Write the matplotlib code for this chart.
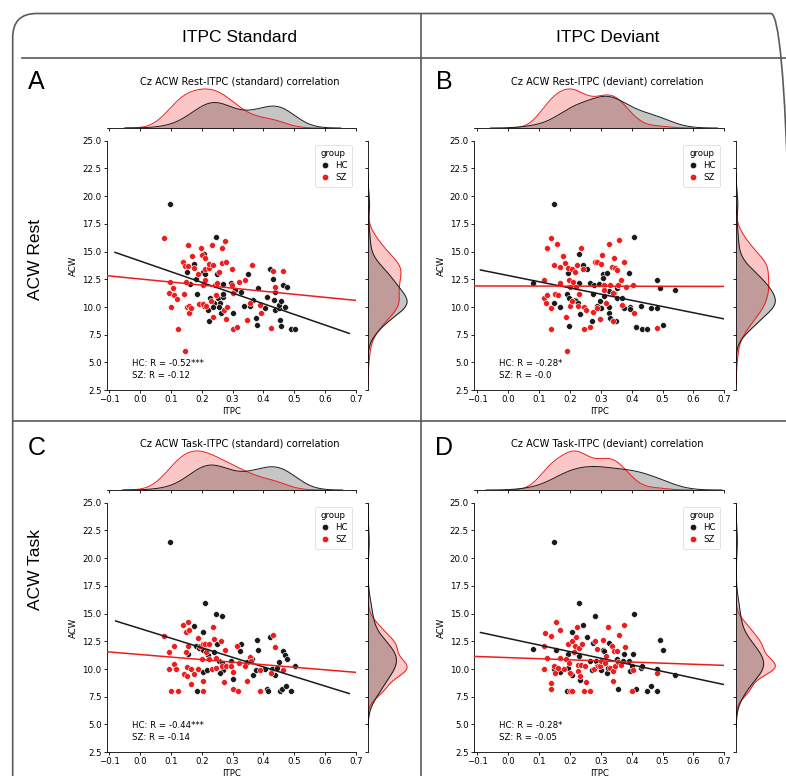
import numpy as np
import matplotlib.pyplot as plt
from matplotlib.patches import FancyBboxPatch
from matplotlib.lines import Line2D

# ---- data ----
# panel A: ACW rest vs ITPC standard
a_hc_x = [0.097, 0.246, 0.153, 0.175, 0.207, 0.181, 0.184, 0.162, 0.205, 0.209, 0.248, 0.227, 0.240,
          0.254, 0.259, 0.268, 0.270, 0.270, 0.294, 0.207, 0.219, 0.225, 0.238, 0.256, 0.261, 0.302,
          0.308, 0.326, 0.337, 0.351, 0.356, 0.365, 0.376, 0.380, 0.383, 0.405, 0.410, 0.421, 0.430,
          0.434, 0.436, 0.438, 0.449, 0.451, 0.456, 0.454, 0.458, 0.464, 0.477, 0.471, 0.488, 0.503]
a_hc_y = [19.26, 16.3, 13.2, 13.85, 14.75, 12.55, 11.2, 12.05, 13.2, 12.95, 13.0, 10.8, 10.4,
          10.8, 10.4, 10.9, 11.2, 12.1, 12.2, 10.1, 9.7, 8.7, 10.0, 10.0, 9.5, 9.45,
          11.5, 11.4, 10.1, 13.0, 10.1, 10.6, 9.0, 8.35, 11.7, 9.95, 10.9, 13.45, 12.5,
          10.6, 11.4, 9.7, 9.9, 10.2, 10.5, 8.8, 8.3, 12.0, 11.8, 10.0, 8.0, 8.0]
a_sz_x = [0.077, 0.095, 0.097, 0.100, 0.108, 0.110, 0.119, 0.123, 0.138, 0.143, 0.146, 0.148, 0.151,
          0.145, 0.157, 0.157, 0.158, 0.160, 0.164, 0.167, 0.175, 0.188, 0.191, 0.197, 0.201, 0.205,
          0.205, 0.210, 0.210, 0.212, 0.213, 0.224, 0.224, 0.229, 0.236, 0.234, 0.238, 0.244, 0.248,
          0.246, 0.257, 0.265, 0.265, 0.275, 0.278, 0.279, 0.273, 0.281, 0.297, 0.299, 0.300, 0.302,
          0.313, 0.321, 0.340, 0.346, 0.356, 0.362, 0.389, 0.391, 0.425, 0.432, 0.436, 0.464]
a_sz_y = [16.2, 11.25, 12.3, 10.0, 11.75, 11.1, 10.75, 8.0, 14.1, 11.15, 13.7, 12.3, 10.0,
          6.0, 15.6, 13.7, 10.1, 9.5, 9.9, 14.6, 13.5, 13.0, 10.3, 15.3, 14.7, 12.0,
          10.3, 14.4, 13.4, 12.4, 10.1, 13.55, 13.9, 10.5, 9.1, 15.6, 13.8, 12.0, 12.2,
          11.05, 13.2, 15.3, 14.0, 16.0, 14.05, 8.9, 9.7, 10.0, 12.0, 13.4, 8.0, 11.3,
          8.2, 12.3, 12.4, 8.8, 10.35, 13.8, 10.2, 9.5, 8.1, 13.25, 11.8, 13.25]

# panel B: ACW rest vs ITPC deviant
b_hc_x = [0.080, 0.149, 0.148, 0.167, 0.189, 0.194, 0.197, 0.198, 0.216, 0.221, 0.227, 0.230, 0.230,
          0.233, 0.241, 0.254, 0.265, 0.273, 0.270, 0.278, 0.286, 0.295, 0.297, 0.302, 0.308, 0.308,
          0.310, 0.321, 0.325, 0.327, 0.327, 0.330, 0.338, 0.342, 0.349, 0.351, 0.353, 0.356, 0.367,
          0.375, 0.392, 0.394, 0.396, 0.408, 0.414, 0.429, 0.432, 0.451, 0.461, 0.481, 0.483, 0.491,
          0.500, 0.541]
b_hc_y = [12.15, 19.26, 10.4, 10.0, 11.2, 13.1, 10.8, 8.3, 10.6, 10.5, 10.4, 12.15, 14.8,
          9.4, 13.8, 13.45, 12.2, 11.15, 8.7, 11.95, 10.1, 12.05, 10.5, 9.95, 13.0, 12.6,
          11.0, 13.1, 11.45, 10.0, 9.5, 9.0, 8.75, 11.3, 8.75, 10.8, 11.7, 11.95, 10.8,
          9.95, 13.05, 10.0, 9.8, 16.3, 8.2, 10.1, 8.0, 8.0, 9.95, 12.45, 9.95, 11.7,
          8.35, 11.5]
b_sz_x = [0.116, 0.117, 0.122, 0.126, 0.127, 0.137, 0.140, 0.140, 0.148, 0.153, 0.159, 0.160, 0.167,
          0.169, 0.176, 0.184, 0.187, 0.189, 0.194, 0.197, 0.200, 0.200, 0.205, 0.207, 0.210, 0.216,
          0.221, 0.224, 0.227, 0.230, 0.236, 0.241, 0.244, 0.246, 0.252, 0.265, 0.275, 0.281, 0.288,
          0.288, 0.297, 0.302, 0.305, 0.310, 0.310, 0.318, 0.325, 0.331, 0.335, 0.338, 0.342, 0.346,
          0.351, 0.340, 0.356, 0.360, 0.365, 0.375, 0.381, 0.367, 0.403, 0.407, 0.483]
b_sz_y = [12.4, 10.8, 10.35, 11.1, 15.35, 16.2, 8.0, 9.95, 13.8, 11.2, 15.65, 11.1, 13.65,
          12.2, 14.6, 14.0, 9.1, 6.0, 13.5, 12.4, 11.85, 10.1, 13.4, 10.5, 12.3, 13.2,
          11.85, 13.8, 10.1, 11.2, 15.3, 13.4, 10.0, 8.0, 9.7, 8.2, 9.55, 14.1, 14.1,
          9.9, 8.9, 13.85, 14.7, 12.0, 11.55, 10.4, 15.65, 12.0, 13.6, 11.3, 14.4, 13.5,
          13.35, 8.75, 12.0, 16.05, 12.4, 14.1, 11.85, 10.2, 12.0, 9.5, 8.1]

# panel C: ACW task vs ITPC standard
c_hc_x = [0.097, 0.211, 0.246, 0.265, 0.175, 0.205, 0.154, 0.181, 0.192, 0.204, 0.216, 0.219, 0.248,
          0.240, 0.257, 0.265, 0.270, 0.259, 0.203, 0.216, 0.302, 0.294, 0.324, 0.326, 0.348, 0.362,
          0.367, 0.376, 0.184, 0.380, 0.381, 0.405, 0.410, 0.416, 0.421, 0.427, 0.438, 0.445, 0.450,
          0.454, 0.459, 0.464, 0.470, 0.473, 0.477, 0.488, 0.502]
c_hc_y = [21.45, 15.95, 15.0, 14.8, 13.9, 13.35, 11.35, 12.05, 11.9, 11.75, 11.6, 11.3, 12.3,
          11.5, 10.75, 10.55, 9.95, 9.6, 9.7, 9.95, 9.1, 10.7, 11.6, 12.3, 10.6, 10.9,
          9.45, 9.9, 8.0, 12.6, 11.75, 10.0, 8.2, 8.0, 12.9, 10.0, 9.45, 10.1, 10.65,
          8.0, 8.2, 11.65, 11.3, 8.5, 10.9, 8.0, 10.3]
c_sz_x = [0.079, 0.095, 0.095, 0.100, 0.110, 0.110, 0.117, 0.123, 0.138, 0.143, 0.148, 0.148, 0.151,
          0.153, 0.157, 0.158, 0.157, 0.164, 0.164, 0.175, 0.188, 0.189, 0.194, 0.201, 0.205, 0.205,
          0.205, 0.211, 0.214, 0.224, 0.224, 0.232, 0.236, 0.241, 0.245, 0.245, 0.262, 0.265, 0.273,
          0.276, 0.277, 0.294, 0.300, 0.300, 0.315, 0.316, 0.322, 0.340, 0.346, 0.356, 0.360, 0.389,
          0.389, 0.425, 0.432, 0.438, 0.464]
c_sz_y = [13.0, 11.55, 10.0, 8.0, 12.05, 10.45, 10.0, 8.0, 13.95, 9.55, 13.3, 11.5, 10.15,
          9.4, 14.25, 13.55, 12.05, 10.0, 8.65, 9.55, 12.8, 10.0, 12.05, 10.9, 12.3, 8.9,
          8.0, 12.3, 11.5, 12.3, 10.9, 10.0, 13.8, 12.7, 11.0, 10.1, 12.5, 10.3, 8.8,
          11.75, 10.3, 10.3, 9.7, 8.2, 12.05, 8.0, 10.55, 10.3, 8.9, 11.1, 10.7, 9.9,
          8.0, 9.65, 13.1, 11.95, 9.95]

# panel D: ACW task vs ITPC deviant
d_hc_x = [0.080, 0.149, 0.149, 0.156, 0.167, 0.189, 0.194, 0.194, 0.207, 0.208, 0.219, 0.230, 0.230,
          0.232, 0.241, 0.254, 0.265, 0.270, 0.273, 0.281, 0.284, 0.288, 0.302, 0.308, 0.310, 0.321,
          0.325, 0.324, 0.340, 0.353, 0.357, 0.373, 0.375, 0.392, 0.394, 0.400, 0.403, 0.407, 0.414,
          0.429, 0.432, 0.451, 0.461, 0.481, 0.483, 0.491, 0.500, 0.540]
d_hc_y = [11.85, 21.45, 10.0, 11.7, 9.7, 8.0, 11.4, 10.1, 9.45, 13.35, 11.9, 11.2, 15.95,
          9.05, 13.95, 12.9, 10.75, 9.95, 12.35, 14.8, 10.75, 10.25, 9.95, 11.75, 11.65, 9.65,
          12.35, 10.1, 9.95, 10.9, 8.2, 10.7, 11.35, 10.7, 9.85, 10.25, 11.35, 15.0, 8.2,
          10.1, 10.3, 8.0, 8.5, 10.0, 8.0, 12.65, 11.75, 9.45]
d_sz_x = [0.116, 0.119, 0.116, 0.126, 0.137, 0.138, 0.140, 0.148, 0.151, 0.156, 0.160, 0.167, 0.169,
          0.180, 0.187, 0.194, 0.196, 0.200, 0.200, 0.207, 0.208, 0.214, 0.216, 0.219, 0.224, 0.227,
          0.227, 0.230, 0.232, 0.235, 0.238, 0.244, 0.249, 0.252, 0.265, 0.278, 0.281, 0.288, 0.291,
          0.297, 0.302, 0.308, 0.313, 0.318, 0.324, 0.330, 0.335, 0.338, 0.340, 0.342, 0.346, 0.351,
          0.356, 0.360, 0.364, 0.375, 0.379, 0.400, 0.405, 0.481]
d_sz_y = [12.05, 13.25, 10.0, 11.0, 13.0, 8.75, 8.2, 10.25, 9.6, 14.25, 10.1, 13.55, 11.0,
          10.0, 10.9, 12.25, 10.55, 9.6, 8.0, 8.0, 12.5, 11.5, 12.05, 12.85, 13.8, 10.4,
          9.8, 11.9, 9.35, 10.35, 12.3, 8.0, 10.25, 8.8, 8.0, 10.0, 12.5, 11.8, 10.3,
          10.3, 10.7, 12.65, 10.55, 11.15, 13.8, 10.1, 12.05, 8.9, 9.8, 11.6, 10.25, 11.6,
          10.6, 13.1, 10.35, 13.95, 11.95, 8.0, 9.95, 9.65]

# regression lines: (slope, intercept), HC line x-span
fit_hc = {"A": (-9.63, 14.15), "B": (-5.59, 12.84), "C": (-8.65, 13.65), "D": (-5.95, 12.76)}
fit_sz = {"A": (-2.76, 12.53), "B": (-0.05, 11.895), "C": (-2.30, 11.31), "D": (-1.00, 11.03)}
hc_span = {"A": (-0.081, 0.678), "B": (-0.090, 0.70), "C": (-0.079, 0.678), "D": (-0.090, 0.70)}
stats = {"A": ("-0.52***", "-0.12"), "B": ("-0.28*", "-0.0"),
         "C": ("-0.44***", "-0.14"), "D": ("-0.28*", "-0.05")}
titles = {"A": "Cz ACW Rest-ITPC (standard) correlation", "B": "Cz ACW Rest-ITPC (deviant) correlation",
          "C": "Cz ACW Task-ITPC (standard) correlation", "D": "Cz ACW Task-ITPC (deviant) correlation"}
groups = ["HC", "SZ"]
col_headers = ["ITPC Standard", "ITPC Deviant"]
row_headers = ["ACW Rest", "ACW Task"]

HC_COLOR = "#1a1a1a"
SZ_COLOR = "#ee1c1c"
W, H = 786, 776
SMALL = 6.2
LINE_GRAY = "#5a5a5a"


def px_axes(fig, left, top, width, height):
    return fig.add_axes([left / W, 1 - (top + height) / H, width / W, height / H])


def kde(values, grid, n_total):
    values = np.asarray(values)
    bw = values.std(ddof=1) * len(values) ** (-0.2)
    z = (grid[:, None] - values[None, :]) / bw
    return np.exp(-0.5 * z ** 2).sum(axis=1) / (np.sqrt(2 * np.pi) * bw * n_total)


def kde_grid(values):
    values = np.asarray(values)
    bw = values.std(ddof=1) * len(values) ** (-0.2)
    return np.linspace(values.min() - 3 * bw, values.max() + 3 * bw, 200)


def draw_panel(fig, key, hc_x, hc_y, sz_x, sz_y, left, top, xlim):
    size_h = 249.5
    width = (xlim[1] - xlim[0]) * 308.6
    ax = px_axes(fig, left, top, width, size_h)
    ax_top = px_axes(fig, left, top - 12.7 - 41, width, 41)
    ax_right = px_axes(fig, left + width + 12, top, 41, size_h)

    ax.scatter(hc_x, hc_y, s=18, color=HC_COLOR, edgecolor="white", linewidth=0.4, zorder=3)
    ax.scatter(sz_x, sz_y, s=18, color=SZ_COLOR, edgecolor="white", linewidth=0.4, zorder=3)

    xs = np.array(hc_span[key])
    m, b = fit_hc[key]
    ax.plot(xs, m * xs + b, color=HC_COLOR, lw=1.1, zorder=4)
    xs = np.array(xlim)
    m, b = fit_sz[key]
    ax.plot(xs, m * xs + b, color=SZ_COLOR, lw=1.1, zorder=4)

    ax.set_xlim(xlim)
    ax.set_ylim(2.5, 25)
    xt = np.round(np.arange(-0.1, 0.71, 0.1), 1)
    yt = np.arange(2.5, 25.1, 2.5)
    ax.set_xticks(xt)
    ax.set_yticks(yt)
    ax.set_xlabel("ITPC", fontsize=SMALL, labelpad=2)
    ax.set_ylabel("ACW", fontsize=SMALL, labelpad=3)
    ax.tick_params(labelsize=SMALL, length=2.2, width=0.6, pad=1.5)
    for s in ["top", "right"]:
        ax.spines[s].set_visible(False)
    for s in ["left", "bottom"]:
        ax.spines[s].set_linewidth(0.6)

    hc_r, sz_r = stats[key]
    ax.text(0.1, 0.04, f"HC: R = {hc_r}\nSZ: R = {sz_r}", transform=ax.transAxes,
            fontsize=SMALL, ha="left", va="bottom", linespacing=1.5)

    handles = [Line2D([], [], ls="", marker="o", color=c, markeredgecolor="white",
                      markeredgewidth=0.4, markersize=4.6) for c in (HC_COLOR, SZ_COLOR)]
    leg = ax.legend(handles, groups, title="group", loc="upper right", fontsize=SMALL,
                    title_fontsize=SMALL, borderpad=0.5, labelspacing=0.35,
                    handletextpad=0.6, handlelength=1.2, borderaxespad=0.5)
    leg.get_frame().set_linewidth(0.5)

    # marginal densities (common normalisation over both groups)
    n_total = len(hc_x) + len(sz_x)
    top_max = 0
    for vals, col in ((sz_x, SZ_COLOR), (hc_x, HC_COLOR)):
        g = kde_grid(vals)
        d = kde(vals, g, n_total)
        top_max = max(top_max, d.max())
        ax_top.fill_between(g, d, color=col, alpha=0.25, lw=0)
        ax_top.plot(g, d, color=col, lw=0.7)
    ax_top.set_xlim(xlim)
    ax_top.set_ylim(0, top_max * 1.05)
    ax_top.set_xticks(xt)
    ax_top.set_xticklabels([])
    ax_top.set_yticks([])
    ax_top.tick_params(length=2.2, width=0.6)
    for s in ["top", "right", "left"]:
        ax_top.spines[s].set_visible(False)
    ax_top.spines["bottom"].set_linewidth(0.6)
    ax_top.patch.set_alpha(0)

    right_max = 0
    for vals, col in ((sz_y, SZ_COLOR), (hc_y, HC_COLOR)):
        g = kde_grid(vals)
        d = kde(vals, g, n_total)
        right_max = max(right_max, d.max())
        ax_right.fill_betweenx(g, d, color=col, alpha=0.25, lw=0)
        ax_right.plot(d, g, color=col, lw=0.7)
    ax_right.set_ylim(2.5, 25)
    ax_right.set_xlim(0, right_max * 1.05)
    ax_right.set_yticks(yt)
    ax_right.set_yticklabels([])
    ax_right.set_xticks([])
    ax_right.tick_params(length=2.2, width=0.6)
    for s in ["top", "right", "bottom"]:
        ax_right.spines[s].set_visible(False)
    ax_right.spines["left"].set_linewidth(0.6)
    ax_right.patch.set_alpha(0)

    fig.text((left + 133) / W, 1 - (top - 59.7) / H, titles[key], fontsize=7.1,
             ha="center", va="center")


fig = plt.figure(figsize=(W / 100, H / 100), dpi=100)

# rounded frame and grid lines of the composite
frame = FancyBboxPatch((0.127, -0.5), 7.95 - 0.127, 7.625 + 0.5,
                       boxstyle="round,pad=0,rounding_size=0.24", transform=fig.dpi_scale_trans,
                       fill=False, edgecolor=LINE_GRAY, lw=1.2)
fig.patches.append(frame)
fig.add_artist(Line2D([22 / W, 1], [1 - 57.5 / H] * 2, color=LINE_GRAY, lw=1.2))
fig.add_artist(Line2D([420.5 / W] * 2, [1 - 13.5 / H, 0], color=LINE_GRAY, lw=1.2))
fig.add_artist(Line2D([12.7 / W, 1], [1 - 420.7 / H] * 2, color=LINE_GRAY, lw=1.2))

head_font = dict(family="Liberation Sans", fontsize=12.5, ha="center", va="center")
fig.text(240 / W, 1 - 38 / H, col_headers[0], **head_font)
fig.text(608 / W, 1 - 38 / H, col_headers[1], **head_font)
fig.text(36 / W, 1 - 260 / H, row_headers[0], rotation=90, **head_font)
fig.text(36 / W, 1 - 570 / H, row_headers[1], rotation=90, **head_font)

letter_font = dict(family="Liberation Sans", fontsize=18, ha="center", va="center")
for key, (lx, ly) in {"A": (36, 82), "B": (444, 82), "C": (37, 448), "D": (444, 448)}.items():
    fig.text(lx / W, 1 - ly / H, key, **letter_font)

draw_panel(fig, "A", a_hc_x, a_hc_y, a_sz_x, a_sz_y, 106.7, 140.7, (-0.108, 0.7))
draw_panel(fig, "B", b_hc_x, b_hc_y, b_sz_x, b_sz_y, 474.0, 140.7, (-0.111, 0.7))
draw_panel(fig, "C", c_hc_x, c_hc_y, c_sz_x, c_sz_y, 106.7, 502.7, (-0.108, 0.7))
draw_panel(fig, "D", d_hc_x, d_hc_y, d_sz_x, d_sz_y, 474.0, 502.7, (-0.111, 0.7))

fig.savefig("out.png", dpi=100)
plt.close(fig)
